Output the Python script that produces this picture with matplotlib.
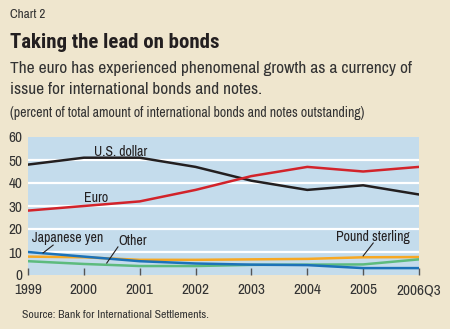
import matplotlib
matplotlib.use("Agg")
import matplotlib.pyplot as plt

plt.rcParams['font.family'] = ['Archivo Narrow', 'Roboto Condensed', 'DejaVu Sans']

years = ['1999', '2000', '2001', '2002', '2003', '2004', '2005', '2006Q3']
us_dollar = [48, 51, 51, 47, 41, 37, 39, 35]
euro = [28, 30, 32, 37, 43, 47, 45, 47]
yen = [10, 8, 6, 5, 4.5, 4.3, 3, 3]
pound = [8, 7.7, 6.6, 6.6, 6.8, 7, 7.7, 7.8]
other = [6, 4.8, 3.9, 3.9, 4.4, 4.5, 4.6, 6.8]

bg = '#EFE6CE'
x = list(range(len(years)))

fig = plt.figure(figsize=(4.5, 3.29), dpi=100, facecolor=bg)
ax = fig.add_axes([28 / 450, 54 / 329, 391 / 450, 138 / 329])
ax.set_facecolor('#C4DCEC')

for v in [10, 20, 30, 40, 50]:
    ax.axhline(v, color='white', lw=1.6, zorder=1)

ax.plot(x, us_dollar, color='#231F20', lw=1.8, zorder=3)
ax.plot(x, euro, color='#D2232A', lw=1.8, zorder=3)
ax.plot(x, pound, color='#F7A823', lw=1.8, zorder=2)
ax.plot(x, other, color='#5DBB7E', lw=1.8, zorder=2)
ax.plot(x, yen, color='#1C72B8', lw=1.8, zorder=3)

ax.set_xlim(0, 7)
ax.set_ylim(0, 60)
ax.set_xticks(x)
ax.set_xticklabels(years)
ax.set_yticks([0, 10, 20, 30, 40, 50, 60])
for s in ax.spines.values():
    s.set_visible(False)
ax.tick_params(axis='x', direction='in', length=5, width=1, color='#555555',
               labelsize=11, labelcolor='#333333', pad=6)
ax.tick_params(axis='y', length=0, labelsize=11, labelcolor='#333333', pad=4)

lab = dict(fontsize=10, color='#231F20')
ax.text(1.66, 53.5, 'U.S. dollar', ha='center', va='center', **lab)
ax.text(1.22, 33.5, 'Euro', ha='center', va='center', **lab)
ax.text(0.07, 16.1, 'Japanese yen', ha='left', va='center', **lab)
ax.text(1.88, 14.8, 'Other', ha='center', va='center', **lab)
ax.text(6.18, 16.5, 'Pound sterling', ha='center', va='center', **lab)
ax.plot([0.45, 0.27], [13, 9.6], color='#231F20', lw=0.8, zorder=4)
ax.plot([1.61, 1.41], [12.2, 5.2], color='#231F20', lw=0.8, zorder=4)
ax.plot([6.18, 6.0], [13.9, 8.3], color='#231F20', lw=0.8, zorder=4)

fig.text(10 / 450, 1 - 15 / 329, 'Chart 2', fontsize=9.5, color='#333333', va='center')
fig.text(10 / 450, 1 - 42 / 329, 'Taking the lead on bonds', fontsize=15,
         family=['Roboto Condensed', 'DejaVu Sans'],
         fontweight='bold', color='#231F20', va='center')
fig.text(10 / 450, 1 - 68 / 329, 'The euro has experienced phenomenal growth as a currency of',
         fontsize=12.5, color='#333333', va='center')
fig.text(10 / 450, 1 - 90 / 329, 'issue for international bonds and notes.',
         fontsize=12.5, color='#333333', va='center')
fig.text(10 / 450, 1 - 113 / 329,
         '(percent of total amount of international bonds and notes outstanding)',
         fontsize=10, color='#333333', va='center')
fig.text(22 / 450, 1 - 315 / 329, 'Source: Bank for International Settlements.',
         fontsize=8.5, color='#333333', va='center')

fig.savefig('out.png', dpi=100, facecolor=bg)
